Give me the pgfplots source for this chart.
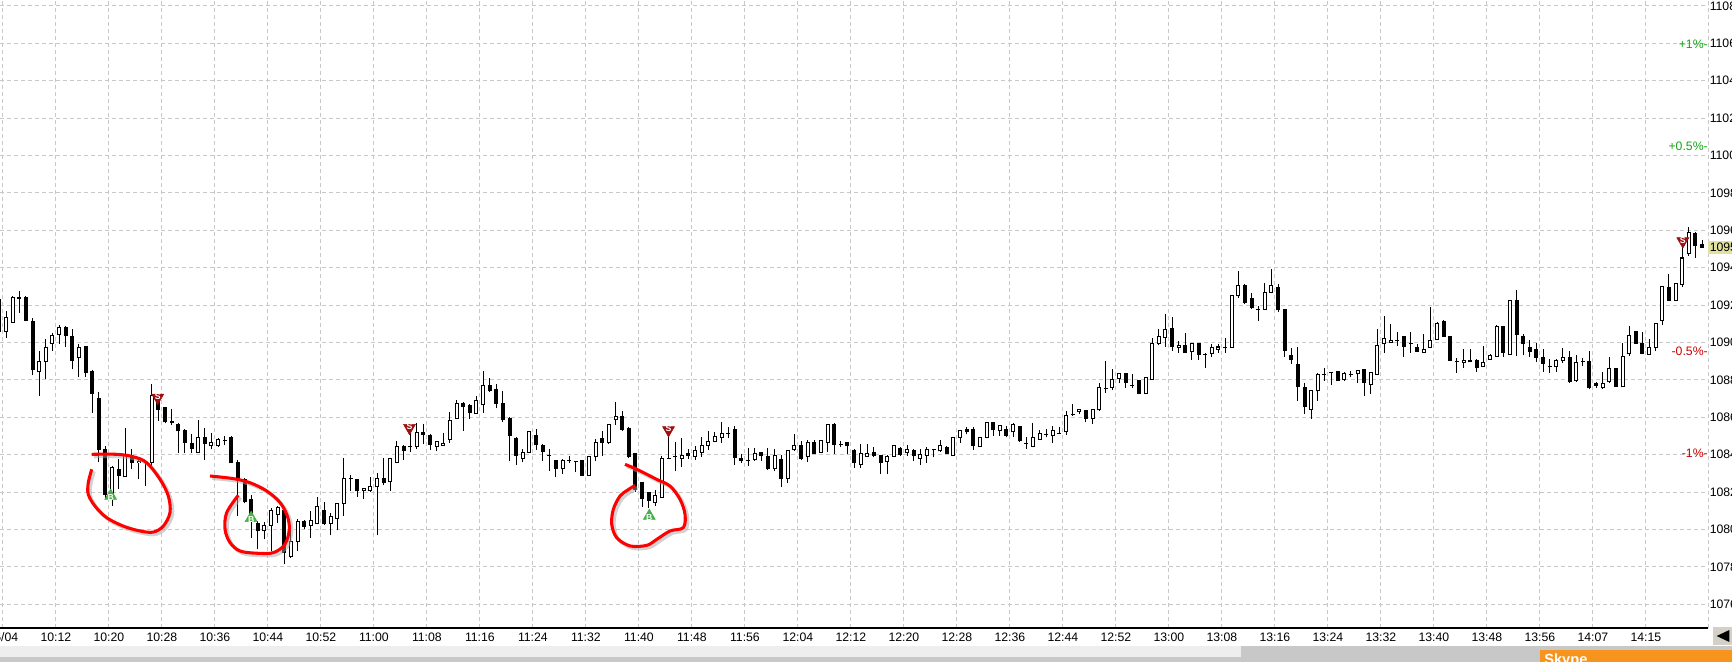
\documentclass[border=0pt]{standalone}
\usepackage{pgfplots}
\usepackage{pgfplotstable}
\pgfplotsset{compat=1.18}
\usepackage{fontspec}
\setmainfont{Liberation Sans}
\definecolor{gridc}{RGB}{200,200,200}
\definecolor{sred}{RGB}{160,15,15}
\definecolor{bgreen}{RGB}{70,175,70}
\definecolor{pgreen}{RGB}{20,165,20}
\definecolor{pred}{RGB}{205,0,0}
\definecolor{ylab}{RGB}{225,225,160}
\definecolor{skyorange}{RGB}{247,148,29}
\definecolor{bandlight}{RGB}{238,238,238}
\definecolor{banddark}{RGB}{200,200,200}
\definecolor{btn}{RGB}{212,208,200}

\pgfplotstableread{
k O H L C
-1 1092.31 1092.40 1090.50 1090.61
0 1090.61 1091.68 1090.26 1091.33
1 1091.09 1092.48 1091.06 1092.40
2 1092.42 1092.75 1091.59 1092.38
3 1092.43 1092.50 1091.15 1091.18
4 1091.15 1091.33 1088.24 1088.53
5 1088.47 1089.54 1087.14 1089.00
6 1089.00 1090.17 1088.03 1089.72
7 1089.95 1090.52 1089.54 1090.38
8 1090.43 1090.92 1089.90 1090.79
9 1090.79 1090.88 1089.78 1090.35
10 1090.31 1090.70 1088.56 1089.06
11 1089.19 1089.94 1088.15 1089.72
12 1089.76 1089.81 1088.17 1088.42
13 1088.47 1088.51 1086.25 1087.28
14 1087.01 1087.35 1083.61 1084.29
15 1084.29 1084.46 1081.61 1081.88
16 1081.88 1083.39 1081.25 1083.30
17 1083.22 1083.75 1082.18 1082.90
18 1082.86 1085.44 1082.86 1084.02
19 1083.90 1084.29 1083.22 1083.57
20 1083.57 1083.84 1082.68 1083.66
21 1083.66 1083.71 1082.32 1083.66
22 1083.57 1087.76 1083.30 1087.14
23 1086.87 1087.05 1085.80 1086.42
24 1086.51 1086.51 1085.68 1085.75
25 1085.78 1086.46 1085.57 1085.70
26 1085.62 1085.68 1084.07 1085.27
27 1085.30 1085.36 1084.11 1084.64
28 1084.61 1085.09 1084.07 1084.34
29 1084.11 1085.85 1084.07 1084.91
30 1084.91 1085.44 1083.71 1084.61
31 1084.47 1085.18 1084.29 1084.64
32 1084.47 1084.91 1084.41 1084.82
33 1084.78 1085.00 1084.50 1084.78
34 1084.91 1085.00 1083.54 1083.57
35 1083.60 1083.71 1080.72 1082.72
36 1082.68 1082.75 1081.40 1081.52
37 1081.61 1081.83 1079.56 1080.45
38 1080.33 1080.45 1078.94 1079.92
39 1079.92 1080.40 1079.47 1080.22
40 1080.22 1081.17 1078.85 1080.99
41 1080.81 1081.25 1080.36 1081.17
42 1080.99 1080.99 1078.14 1078.76
43 1078.58 1080.10 1078.49 1079.38
44 1079.38 1080.54 1078.85 1080.45
45 1080.45 1080.51 1080.00 1080.18
46 1080.22 1080.99 1079.56 1080.49
47 1080.33 1081.75 1080.27 1081.22
48 1081.02 1081.47 1080.26 1080.33
49 1080.33 1080.86 1079.69 1080.72
50 1080.58 1081.43 1079.97 1081.40
51 1081.40 1083.84 1080.72 1082.72
52 1082.70 1082.90 1082.05 1082.74
53 1082.65 1082.68 1081.75 1082.06
54 1082.06 1082.24 1081.65 1082.20
55 1082.06 1082.81 1082.00 1082.29
56 1082.29 1083.00 1079.69 1082.72
57 1082.72 1083.84 1082.36 1082.50
58 1082.54 1083.84 1082.06 1083.79
59 1083.60 1084.73 1083.54 1084.46
60 1084.46 1084.50 1083.71 1084.20
61 1084.42 1085.18 1084.14 1084.42
62 1084.42 1085.68 1084.32 1085.21
63 1085.21 1085.62 1084.55 1085.09
64 1085.00 1085.09 1084.25 1084.55
65 1084.46 1084.73 1084.20 1084.68
66 1084.50 1085.18 1084.46 1084.60
67 1084.80 1086.26 1084.63 1085.82
68 1085.94 1086.94 1085.91 1086.76
69 1086.74 1086.83 1085.28 1086.58
70 1086.65 1086.71 1085.89 1086.26
71 1086.21 1087.15 1086.17 1086.89
72 1086.71 1088.49 1086.23 1087.72
73 1087.72 1088.08 1087.33 1087.42
74 1087.47 1087.78 1086.48 1086.76
75 1086.76 1087.42 1085.77 1085.87
76 1085.94 1086.00 1083.68 1085.05
77 1084.88 1084.93 1083.45 1083.95
78 1083.81 1084.31 1083.59 1084.13
79 1084.13 1085.28 1084.09 1085.23
80 1085.05 1085.37 1084.27 1084.52
81 1084.48 1084.57 1083.68 1084.16
82 1083.98 1084.31 1083.15 1083.98
83 1083.68 1083.74 1082.79 1083.27
84 1083.24 1083.77 1082.99 1083.68
85 1083.70 1083.95 1083.56 1083.70
86 1083.63 1083.68 1083.06 1083.63
87 1083.68 1083.74 1082.88 1082.88
88 1082.88 1083.95 1082.88 1083.91
89 1083.91 1084.84 1083.68 1084.63
90 1084.84 1085.28 1083.95 1084.66
91 1084.63 1085.64 1084.57 1085.59
92 1085.87 1086.80 1085.59 1086.05
93 1086.05 1086.35 1085.28 1085.34
94 1085.41 1085.46 1083.81 1083.91
95 1084.04 1084.09 1082.02 1082.13
96 1082.53 1082.56 1081.19 1081.64
97 1081.96 1082.00 1081.14 1081.55
98 1081.46 1082.13 1081.28 1081.82
99 1081.73 1083.91 1081.73 1083.81
100 1083.81 1085.11 1083.77 1083.81
101 1083.91 1084.66 1083.15 1083.91
102 1083.81 1084.88 1083.33 1083.95
103 1084.06 1084.31 1083.77 1083.95
104 1083.91 1084.45 1083.74 1084.25
105 1084.13 1084.93 1083.86 1084.48
106 1084.48 1085.28 1084.25 1084.72
107 1084.72 1085.19 1084.66 1084.98
108 1084.93 1085.77 1084.63 1085.14
109 1085.14 1085.46 1084.88 1085.14
110 1085.34 1085.55 1083.45 1083.86
111 1083.81 1084.04 1083.56 1083.68
112 1083.70 1084.34 1083.42 1083.70
113 1083.74 1084.38 1083.68 1084.04
114 1084.13 1084.16 1083.68 1083.95
115 1083.91 1084.38 1083.20 1083.27
116 1083.24 1084.31 1083.15 1083.95
117 1083.74 1083.98 1082.26 1082.70
118 1082.74 1084.27 1082.49 1084.22
119 1084.27 1085.11 1084.22 1084.48
120 1084.48 1084.75 1083.74 1083.77
121 1083.91 1084.80 1083.63 1084.63
122 1084.63 1084.80 1084.04 1084.09
123 1084.13 1084.77 1084.09 1084.75
124 1084.66 1085.64 1084.13 1085.59
125 1085.59 1085.70 1084.04 1084.52
126 1084.52 1084.75 1084.40 1084.52
127 1084.66 1084.70 1084.04 1084.48
128 1084.25 1084.31 1083.31 1083.59
129 1083.50 1084.57 1083.31 1084.04
130 1083.91 1084.57 1083.86 1084.04
131 1084.13 1084.40 1083.86 1083.95
132 1083.95 1083.98 1082.95 1083.59
133 1083.63 1083.98 1082.95 1083.91
134 1083.91 1084.52 1083.86 1084.48
135 1084.33 1084.39 1083.94 1084.03
136 1084.12 1084.51 1083.94 1084.26
137 1084.25 1084.30 1083.68 1083.94
138 1083.80 1084.30 1083.44 1084.03
139 1083.98 1084.39 1083.55 1084.26
140 1084.26 1084.30 1083.85 1084.26
141 1084.21 1084.80 1084.16 1084.51
142 1084.39 1084.44 1084.03 1084.07
143 1083.98 1084.96 1083.94 1084.92
144 1084.92 1085.31 1084.65 1085.28
145 1085.33 1085.46 1085.10 1085.22
146 1085.33 1085.46 1084.26 1084.48
147 1084.44 1084.97 1084.39 1084.92
148 1084.92 1085.76 1084.87 1085.72
149 1085.72 1085.76 1085.01 1085.37
150 1085.28 1085.58 1085.01 1085.54
151 1085.33 1085.54 1084.92 1085.05
152 1085.22 1085.69 1084.97 1085.63
153 1085.51 1085.54 1084.69 1084.74
154 1084.62 1084.92 1084.30 1084.62
155 1084.44 1085.69 1084.39 1084.92
156 1084.83 1085.33 1084.79 1085.15
157 1085.10 1085.37 1084.92 1085.10
158 1085.01 1085.54 1084.65 1085.28
159 1085.15 1085.46 1085.10 1085.15
160 1085.22 1086.35 1085.04 1086.08
161 1086.17 1086.70 1086.08 1086.17
162 1086.29 1086.43 1086.17 1086.40
163 1086.35 1086.40 1085.76 1085.94
164 1085.94 1086.47 1085.63 1086.43
165 1086.43 1087.86 1086.35 1087.59
166 1087.55 1089.01 1087.32 1087.55
167 1087.59 1088.57 1087.47 1088.00
168 1088.07 1088.39 1087.86 1088.36
169 1088.36 1088.39 1087.59 1087.86
170 1087.72 1088.30 1087.59 1087.72
171 1087.95 1088.00 1087.23 1087.29
172 1087.29 1088.12 1087.23 1088.12
173 1088.04 1090.26 1088.04 1089.94
174 1089.94 1090.74 1089.85 1090.32
175 1090.26 1091.51 1089.78 1090.67
176 1090.74 1091.38 1089.55 1089.78
177 1089.73 1090.09 1089.46 1089.85
178 1089.85 1090.49 1089.43 1089.46
179 1089.50 1089.96 1089.07 1089.96
180 1089.96 1089.96 1089.07 1089.37
181 1089.37 1089.46 1088.66 1089.37
182 1089.43 1089.91 1089.20 1089.73
183 1089.64 1089.91 1089.46 1089.76
184 1089.73 1090.26 1089.46 1089.73
185 1089.73 1092.49 1089.73 1092.49
186 1092.49 1093.82 1092.40 1093.06
187 1093.06 1093.11 1092.04 1092.13
188 1092.35 1092.67 1091.81 1091.86
189 1091.74 1091.95 1091.15 1091.74
190 1091.78 1093.20 1091.74 1092.70
191 1092.70 1093.95 1092.63 1093.06
192 1092.93 1093.11 1091.63 1091.74
193 1091.74 1091.74 1089.25 1089.55
194 1089.32 1089.68 1088.84 1089.07
195 1088.84 1089.78 1086.88 1087.65
196 1087.59 1087.86 1086.17 1086.58
197 1086.44 1087.42 1085.90 1087.42
198 1087.42 1088.36 1086.88 1088.31
199 1088.31 1088.66 1087.95 1088.31
200 1088.39 1088.39 1087.72 1088.39
201 1088.43 1088.43 1087.95 1087.95
202 1088.04 1088.43 1087.95 1088.34
203 1088.31 1088.48 1088.13 1088.31
204 1088.34 1088.48 1087.83 1088.48
205 1088.54 1088.54 1087.15 1087.86
206 1087.77 1088.39 1087.24 1088.39
207 1088.31 1090.71 1088.25 1089.82
208 1089.96 1091.42 1089.43 1090.21
209 1089.99 1090.98 1089.99 1090.10
210 1090.12 1090.57 1089.82 1090.12
211 1090.32 1090.35 1089.25 1089.78
212 1089.94 1090.57 1089.46 1089.94
213 1089.72 1089.90 1089.49 1089.54
214 1089.49 1090.48 1089.49 1089.63
215 1089.72 1091.91 1089.72 1090.11
216 1090.16 1091.09 1090.13 1091.02
217 1091.11 1091.20 1090.34 1090.34
218 1090.34 1090.34 1089.06 1089.06
219 1089.01 1089.18 1088.38 1089.01
220 1088.92 1089.67 1088.65 1089.04
221 1089.04 1089.67 1088.95 1088.97
222 1089.06 1089.10 1088.42 1088.65
223 1088.70 1089.81 1088.70 1088.95
224 1089.10 1089.40 1089.10 1089.33
225 1089.27 1090.96 1089.27 1090.84
226 1090.84 1090.84 1089.24 1089.45
227 1089.38 1092.26 1089.38 1092.26
228 1092.26 1092.83 1089.27 1090.45
229 1090.34 1090.48 1089.31 1089.95
230 1089.74 1090.16 1089.24 1089.54
231 1089.63 1089.95 1088.95 1089.19
232 1089.19 1089.67 1088.42 1088.88
233 1088.70 1089.13 1088.38 1088.70
234 1088.70 1089.13 1088.42 1089.02
235 1089.02 1089.72 1088.88 1089.18
236 1089.18 1089.54 1087.85 1087.89
237 1087.99 1089.31 1087.89 1088.92
238 1089.01 1089.18 1088.74 1089.01
239 1089.01 1089.54 1087.49 1087.58
240 1087.81 1087.89 1087.58 1087.71
241 1087.58 1088.42 1087.53 1087.81
242 1087.89 1089.24 1087.81 1088.60
243 1088.60 1088.65 1087.64 1087.64
244 1087.67 1089.95 1087.67 1089.27
245 1089.40 1090.88 1089.27 1090.38
246 1090.61 1090.61 1089.95 1089.95
247 1089.95 1090.56 1089.36 1089.42
248 1089.36 1090.20 1089.36 1089.72
249 1089.72 1091.02 1089.54 1091.02
250 1091.20 1093.01 1090.91 1093.01
251 1092.92 1093.69 1092.21 1092.25
252 1092.25 1093.15 1092.21 1093.15
253 1093.10 1095.32 1092.98 1094.52
254 1094.75 1096.18 1094.65 1095.89
255 1095.82 1095.89 1094.52 1095.20
256 1095.23 1095.50 1095.06 1095.06
}\ohlc

\pgfplotstableread{
x y
12.94 1083.22
12.42 1082.50
12.42 1081.88
13.43 1081.25
15.20 1080.63
17.71 1080.18
20.23 1079.92
22.23 1079.86
23.74 1080.18
24.75 1080.90
24.50 1081.79
23.25 1082.68
21.24 1083.57
19.21 1083.89
16.71 1084.02
12.94 1084.02
}\loopA

\pgfplotstableread{
x y
35.06 1081.83
33.31 1080.90
33.06 1080.01
33.81 1079.30
35.32 1078.85
37.84 1078.73
40.35 1078.76
42.11 1079.21
42.76 1080.01
42.46 1080.72
41.36 1081.44
39.35 1082.06
36.83 1082.50
34.31 1082.72
30.79 1082.86
}\loopB

\pgfplotstableread{
x y
94.94 1082.36
93.80 1082.10
92.68 1081.79
91.67 1081.08
91.43 1080.28
92.18 1079.56
94.19 1079.12
96.71 1079.15
98.22 1079.47
100.23 1079.92
102.23 1080.10
102.49 1080.81
101.74 1081.61
100.23 1082.32
98.22 1082.68
95.20 1083.22
93.43 1083.48
}\loopC

\begin{document}
\begin{tikzpicture}
\begin{axis}[
  at={(0pt,25.5pt)}, anchor=south west,
  scale only axis, width=1281pt, height=471pt,
  xmin=-0.906, xmax=256.9, ymin=1074.73, ymax=1108.32,
  axis x line*=bottom, axis y line*=right,
  x axis line style={black, line width=0.9pt, -},
  y axis line style={draw=none},
  xtick={-0.47,7.53,...,247.53},
  xticklabels={05/04,10:12,10:20,10:28,10:36,10:44,10:52,11:00,11:08,11:16,11:24,11:32,11:40,11:48,11:56,12:04,12:12,12:20,12:28,12:36,12:44,12:52,13:00,13:08,13:16,13:24,13:32,13:40,13:48,13:56,14:07,14:15},
  ytick={1076,1078,...,1108},
  yticklabels={1076,1078,1080,1082,1084,1086,1088,1090,1092,1094,1096,1098,1100,1102,1104,1106,1108},
  extra x ticks={256.9}, extra x tick labels={},
  extra x tick style={grid=major},
  grid=major,
  grid style={gridc, line width=0.75pt, dash pattern=on 3pt off 2.25pt},
  major tick length=0pt, tick style={draw=none},
  xticklabel style={font=\fontsize{9.2}{10}\selectfont, anchor=base, inner sep=0pt, yshift=-10.3pt},
  yticklabel style={font=\fontsize{9.2}{10}\selectfont, anchor=west, inner sep=0pt, xshift=1.1pt},
  clip mode=individual,
]
% wicks
\addplot[draw=none, mark=none, error bars/.cd, y dir=plus, y explicit, error mark=none,
  error bar style={draw=black, line width=0.75pt}]
  table[x=k, y=L, y error expr={\thisrow{H}-\thisrow{L}}] {\ohlc};
% bodies (outline / filled)
\addplot[draw=none, mark=none, error bars/.cd, y dir=plus, y explicit, error mark=none,
  error bar style={draw=black, line width=3pt}]
  table[x=k, y expr={min(\thisrow{O},\thisrow{C})-0.027}, y error expr={abs(\thisrow{C}-\thisrow{O})+0.054}] {\ohlc};
% hollow interiors
\addplot[draw=none, mark=none, error bars/.cd, y dir=plus, y explicit, error mark=none,
  error bar style={draw=white, line width=1.5pt}]
  table[x=k, y expr={\thisrow{O}+0.027}, y error expr={max(\thisrow{C}-\thisrow{O}-0.054,0)}] {\ohlc};

% sell markers
\addplot[only marks, mark=triangle*, mark size=5.2pt,
  mark options={rotate=180, fill=sred, draw=sred},
  nodes near coords={S},
  every node near coord/.append style={anchor=center, text=white, inner sep=0pt, yshift=0.8pt,
    font=\fontsize{6.5}{7}\bfseries\selectfont}]
  coordinates {(22.9,1087.05) (60.9,1085.44) (100.0,1085.32) (253.1,1095.42)};
% buy markers
\addplot[only marks, mark=triangle*, mark size=5.2pt,
  mark options={fill=bgreen, draw=bgreen},
  nodes near coords={B},
  every node near coord/.append style={anchor=center, text=white, inner sep=0pt, yshift=-0.8pt,
    font=\fontsize{6.5}{7}\bfseries\selectfont}]
  coordinates {(15.8,1081.79) (37.0,1080.61) (97.1,1080.72)};

% hand-drawn loops (shadow + red)
\addplot[black!35, opacity=0.5, line width=2.6pt, smooth, tension=0.55] table[x expr=\thisrow{x}+0.35, y expr=\thisrow{y}-0.12]{\loopA};
\addplot[black!35, opacity=0.5, line width=2.6pt, smooth, tension=0.55] table[x expr=\thisrow{x}+0.35, y expr=\thisrow{y}-0.12]{\loopB};
\addplot[black!35, opacity=0.5, line width=2.6pt, smooth, tension=0.55] table[x expr=\thisrow{x}+0.35, y expr=\thisrow{y}-0.12]{\loopC};
\addplot[red, line width=2.3pt, smooth, tension=0.55] table[x=x, y=y]{\loopA};
\addplot[red, line width=2.3pt, smooth, tension=0.55] table[x=x, y=y]{\loopB};
\addplot[red, line width=2.3pt, smooth, tension=0.55] table[x=x, y=y]{\loopC};

% percent levels
\node[anchor=east, inner sep=0pt, text=pgreen, font=\fontsize{9.2}{10}\selectfont] at (axis cs:256.9,1105.95) {+1\%-};
\node[anchor=east, inner sep=0pt, text=pgreen, font=\fontsize{9.2}{10}\selectfont] at (axis cs:256.9,1100.48) {+0.5\%-};
\node[anchor=east, inner sep=0pt, text=pred, font=\fontsize{9.2}{10}\selectfont] at (axis cs:256.9,1089.53) {-0.5\%-};
\node[anchor=east, inner sep=0pt, text=pred, font=\fontsize{9.2}{10}\selectfont] at (axis cs:256.9,1084.05) {-1\%-};
% current price box
\fill[ylab] (axis cs:256.95,1095.44) rectangle (axis cs:262,1094.72);
\node[anchor=west, inner sep=0pt, xshift=1.1pt, font=\fontsize{9.2}{10}\selectfont] at (axis cs:256.9,1095.08) {1095};
\end{axis}

% bottom strips
\fill[bandlight] (0pt,4.125pt) rectangle (1299pt,12pt);
\fill[banddark] (930.75pt,4.125pt) rectangle (1299pt,12pt);
\fill[banddark] (0pt,0pt) rectangle (1299pt,4.125pt);
\fill[skyorange] (1155pt,0pt) rectangle (1299pt,9.375pt);
\node[anchor=north west, text=white, inner sep=0pt, font=\bfseries\fontsize{11}{11}\selectfont] at (1158pt,6.6pt) {Skype};
\fill[btn] (1284.75pt,12.75pt) rectangle (1299pt,26.25pt);
\fill[black] (1287.5pt,19.5pt) -- (1297pt,24pt) -- (1297pt,15pt) -- cycle;

\pgfresetboundingbox
\path (0pt,0pt) rectangle (1299pt,496.5pt);
\end{tikzpicture}
\end{document}
